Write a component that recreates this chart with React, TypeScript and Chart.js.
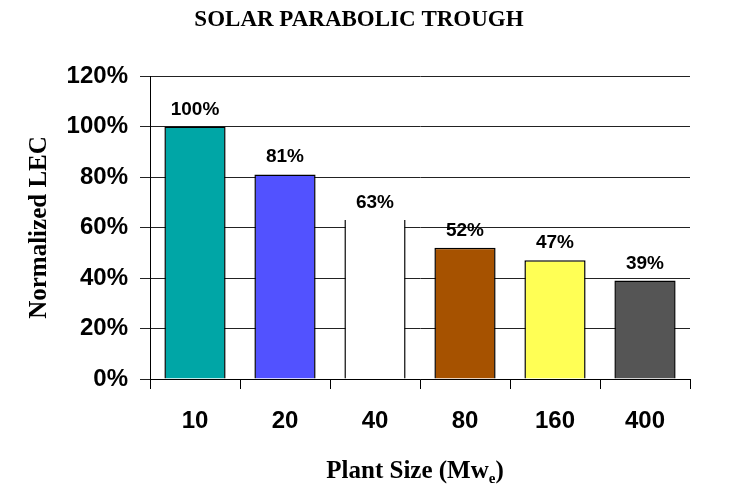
import React, { useEffect, useRef } from 'react';
import { Chart, registerables } from 'chart.js';

Chart.register(...registerables);

const categories = ['10', '20', '40', '80', '160', '400'];
const values = [100, 81, 63, 52, 47, 39];
const barColors = ['#00A6A6', '#5252FF', '#FFFFFF', '#A65200', '#FFFF55', '#555555'];
const yMin = 0;
const yMax = 120;
const yStep = 20;
const chartTitle = 'SOLAR PARABOLIC TROUGH';
const yTitle = 'Normalized LEC';
const xTitleMain = 'Plant Size (Mw';
const xTitleSub = 'e';
const xTitleEnd = ')';

const textPlugin = {
  id: 'textPlugin',
  afterDraw(chart: any) {
    const ctx = chart.ctx;
    const area = chart.chartArea;
    ctx.save();
    ctx.fillStyle = '#000';

    // Main title
    ctx.font = 'bold 23px "Liberation Serif"';
    ctx.textAlign = 'center';
    ctx.textBaseline = 'middle';
    ctx.fillText(chartTitle, 359, 20);

    // Y title
    ctx.save();
    ctx.translate(40, (area.top + area.bottom) / 2);
    ctx.rotate(-Math.PI / 2);
    ctx.font = 'bold 25px "Liberation Serif"';
    ctx.textAlign = 'center';
    ctx.textBaseline = 'middle';
    ctx.fillText(yTitle, 0, 0);
    ctx.restore();

    // X title with subscript
    const mainFont = 'bold 25px "Liberation Serif"';
    const subFont = 'bold 15px "Liberation Serif"';
    ctx.font = mainFont;
    const w1 = ctx.measureText(xTitleMain).width;
    const w3 = ctx.measureText(xTitleEnd).width;
    ctx.font = subFont;
    const w2 = ctx.measureText(xTitleSub).width;
    const total = w1 + w2 + w3;
    let x = 415 - total / 2;
    const base = 478;
    ctx.textAlign = 'left';
    ctx.textBaseline = 'alphabetic';
    ctx.font = mainFont;
    ctx.fillText(xTitleMain, x, base);
    x += w1;
    ctx.font = subFont;
    ctx.fillText(xTitleSub, x, base + 5);
    x += w2;
    ctx.font = mainFont;
    ctx.fillText(xTitleEnd, x, base);

    // Data labels
    const meta = chart.getDatasetMeta(0);
    ctx.font = 'bold 19px "Liberation Sans"';
    ctx.textAlign = 'center';
    ctx.textBaseline = 'alphabetic';
    meta.data.forEach((bar: any, i: number) => {
      ctx.fillText(`${values[i]}%`, bar.x, bar.y - 12);
    });
    ctx.restore();
  },
};

export default function App() {
  const canvasRef = useRef<HTMLCanvasElement | null>(null);

  useEffect(() => {
    if (!canvasRef.current) return;
    const chart = new Chart(canvasRef.current, {
      type: 'bar',
      data: {
        labels: categories,
        datasets: [
          {
            data: values,
            backgroundColor: barColors,
            borderColor: '#000',
            borderWidth: [1.5, 1.5, { left: 1.5, right: 1.5, top: 0, bottom: 0 }, 1.5, 1.5, 1.5] as any,
            barPercentage: 0.68,
            categoryPercentage: 1,
          },
        ],
      },
      options: {
        animation: false,
        responsive: true,
        maintainAspectRatio: false,
        layout: { padding: { top: 76, right: 62, left: 0, bottom: 0 } },
        plugins: {
          legend: { display: false },
          tooltip: { enabled: false },
          title: { display: false },
        },
        scales: {
          x: {
            grid: {
              offset: true,
              drawOnChartArea: false,
              drawTicks: true,
              tickLength: 10,
              color: '#000',
            },
            border: { display: true, color: '#000', width: 1 },
            ticks: {
              color: '#000',
              padding: 18,
              font: { family: 'Liberation Sans', size: 24, weight: 'bold' },
            },
            afterFit: (s: any) => {
              s.height = 106;
            },
          },
          y: {
            min: yMin,
            max: yMax,
            ticks: {
              stepSize: yStep,
              color: '#000',
              padding: 12,
              font: { family: 'Liberation Sans', size: 24, weight: 'bold' },
              callback: (v: any) => `${v}%`,
            },
            grid: {
              color: '#222',
              tickLength: 10,
              drawTicks: true,
            },
            border: { display: true, color: '#000', width: 1 },
            afterFit: (s: any) => {
              s.width = 150;
            },
          },
        },
      },
      plugins: [textPlugin],
    });
    return () => chart.destroy();
  }, []);

  return (
    <div style={{ position: 'absolute', left: 0, top: 0, width: 752, height: 485, background: '#fff' }}>
      <canvas ref={canvasRef} />
    </div>
  );
}
